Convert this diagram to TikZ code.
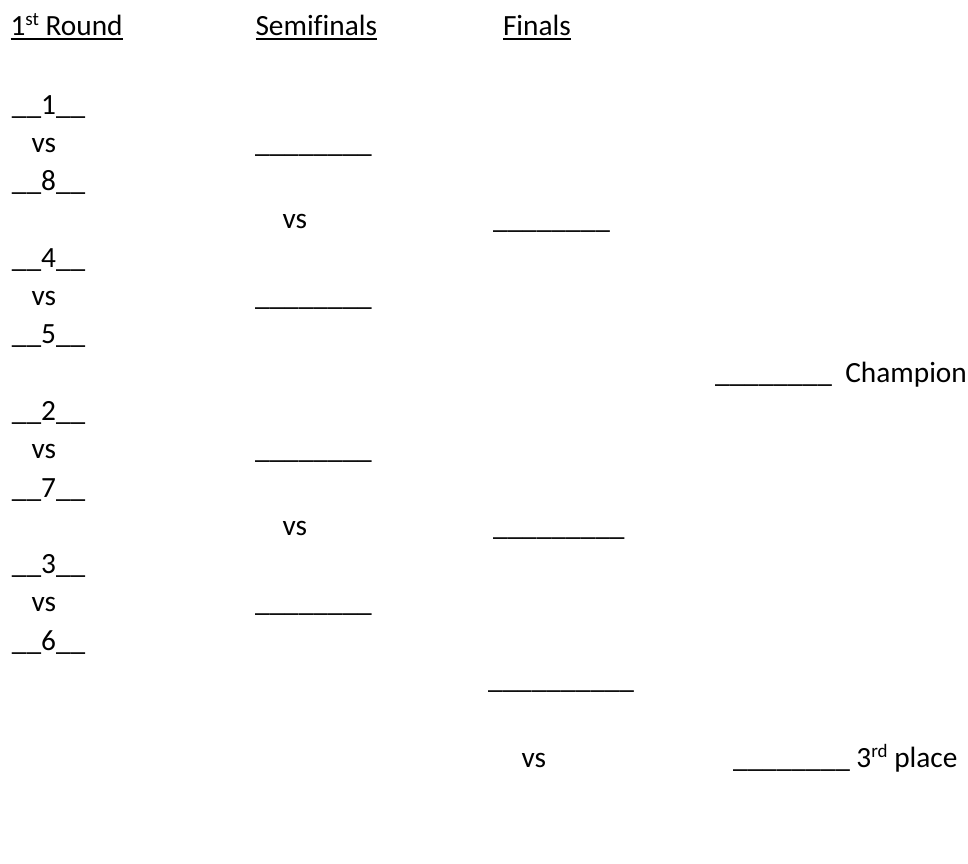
\documentclass[tikz,border=0pt]{standalone}
\usepackage{fontspec}
\setmainfont{Carlito}[Ligatures=CommonOff]
\newcommand\supx[1]{\raisebox{0.34em}{\fontsize{19}{19}\selectfont #1}}
\begin{document}
\begin{tikzpicture}[x=1pt,y=-1pt,
  txt/.style={inner sep=0pt, outer sep=0pt, anchor=base west, font=\fontsize{29.33}{35}\selectfont},
  hdrline/.style={line width=1.7pt}]
\useasboundingbox[fill=white] (0,0) rectangle (968,863);
% headers
\node[txt] (h1) at (10.5,35) {1\supx{st} Round};
\node[txt] (h2) at (255.5,35) {Semifinals};
\node[txt] (h3) at (503,35) {Finals};
\draw[hdrline] ([yshift=-4.3pt]h1.base west) -- ([yshift=-4.3pt]h1.base east);
\draw[hdrline] ([yshift=-4.3pt]h2.base west) -- ([yshift=-4.3pt]h2.base east);
\draw[hdrline] ([yshift=-4.3pt]h3.base west) -- ([yshift=-4.3pt]h3.base east);
% first round
\node[txt] (s1) at (12,114)   {\textunderscore\textunderscore1\textunderscore\textunderscore};
\node[txt] (v1) at (31.5,152.3) {vs};
\node[txt] (s8) at (12,190.6) {\textunderscore\textunderscore8\textunderscore\textunderscore};
\node[txt] (s4) at (12,267.2) {\textunderscore\textunderscore4\textunderscore\textunderscore};
\node[txt] (v2) at (31.5,305.5) {vs};
\node[txt] (s5) at (12,343.8) {\textunderscore\textunderscore5\textunderscore\textunderscore};
\node[txt] (s2) at (12,420.4) {\textunderscore\textunderscore2\textunderscore\textunderscore};
\node[txt] (v3) at (31.5,458.7) {vs};
\node[txt] (s7) at (12,497)   {\textunderscore\textunderscore7\textunderscore\textunderscore};
\node[txt] (s3) at (12,573.6) {\textunderscore\textunderscore3\textunderscore\textunderscore};
\node[txt] (v4) at (31.5,611.9) {vs};
\node[txt] (s6) at (12,650.2) {\textunderscore\textunderscore6\textunderscore\textunderscore};
% semifinals
\node[txt] (sb1) at (255,152.3) {\textunderscore\textunderscore\textunderscore\textunderscore\textunderscore\textunderscore\textunderscore\textunderscore};
\node[txt] (sv1) at (282.5,228.9) {vs};
\node[txt] (sb2) at (255,305.5) {\textunderscore\textunderscore\textunderscore\textunderscore\textunderscore\textunderscore\textunderscore\textunderscore};
\node[txt] (sb3) at (255,458.7) {\textunderscore\textunderscore\textunderscore\textunderscore\textunderscore\textunderscore\textunderscore\textunderscore};
\node[txt] (sv2) at (282.5,535.3) {vs};
\node[txt] (sb4) at (255,611.9) {\textunderscore\textunderscore\textunderscore\textunderscore\textunderscore\textunderscore\textunderscore\textunderscore};
% finals
\node[txt] (fb1) at (493,228.9) {\textunderscore\textunderscore\textunderscore\textunderscore\textunderscore\textunderscore\textunderscore\textunderscore};
\node[txt] (fb2) at (493,535.3) {\textunderscore\textunderscore\textunderscore\textunderscore\textunderscore\textunderscore\textunderscore\textunderscore\textunderscore};
\node[txt] (fb3) at (488,688.5) {\textunderscore\textunderscore\textunderscore\textunderscore\textunderscore\textunderscore\textunderscore\textunderscore\textunderscore\textunderscore};
\node[txt] (fv) at (521.5,767) {vs};
% champion and third place
\node[txt] (cb) at (715,382.1) {\textunderscore\textunderscore\textunderscore\textunderscore\textunderscore\textunderscore\textunderscore\textunderscore\hspace{13.5pt}Champion};
\node[txt] (tb) at (733,767) {\textunderscore\textunderscore\textunderscore\textunderscore\textunderscore\textunderscore\textunderscore\textunderscore\hspace{6.6pt}3\supx{rd} place};
\end{tikzpicture}
\end{document}
